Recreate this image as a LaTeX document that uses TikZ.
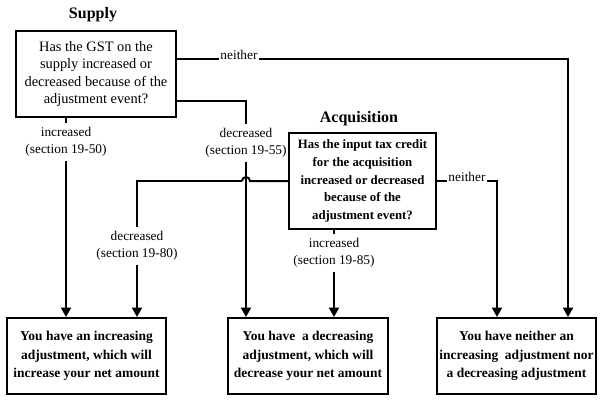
\documentclass[tikz,border=0pt]{standalone}
\usepackage{fontspec}
\setmainfont{Liberation Serif}
\usetikzlibrary{arrows.meta}
\tikzset{
  box/.style={draw, line width=1.5pt, inner sep=0pt, align=center},
  qreg/.style={box, font=\fontsize{10.8}{13}\selectfont},
  qbold/.style={box, font=\bfseries\fontsize{9.6}{13.2}\selectfont},
  rbox/.style={box, minimum width=159\pxu, minimum height=76\pxu, font=\bfseries\fontsize{10.1}{13.8}\selectfont},
  conn/.style={line width=1.5pt, -{Triangle[width=7.5pt,length=7pt]}},
  plain/.style={line width=1.5pt},
  lab/.style={fill=white, inner xsep=1pt, inner ysep=3.5pt, align=center, font=\fontsize{10}{12.7}\selectfont},
  nlab/.style={fill=white, inner sep=1.2pt, font=\fontsize{10}{12}\selectfont, anchor=base},
  ttl/.style={font=\bfseries\fontsize{12}{14}\selectfont}
}
\newlength{\pxu}
\setlength{\pxu}{0.75pt}
\begin{document}
\begin{tikzpicture}[x=0.75pt,y=-0.75pt]
\useasboundingbox (0,0) rectangle (600,400);
% titles
\node[ttl] (tsup) at (93,15) {Supply};
\node[ttl] (tacq) at (359,119) {Acquisition};
% question boxes
\node[qreg, minimum width=160\pxu, minimum height=86\pxu] (supply) at (96,74)
  {Has the GST on the\\supply increased or\\decreased because of the\\adjustment event?};
\node[qbold, minimum width=147\pxu, minimum height=96\pxu] (acq) at (362.5,181)
  {Has the input tax credit\\for the acquisition\\increased or decreased\\because of the\\adjustment event?};
% result boxes
\node[rbox] (box1) at (86.5,356) {You have an increasing\\adjustment, which will\\increase your net amount};
\node[rbox, minimum width=160\pxu] (box2) at (308,356) {You have~ a decreasing\\adjustment, which will\\decrease your net amount};
\node[rbox] (box3) at (516.5,356) {You have neither an\\increasing~ adjustment nor\\a decreasing adjustment};
% corner coordinates
\coordinate (n1) at (568,59);
\coordinate (d1) at (246,101);
\coordinate (i1) at (66,117);
\coordinate (d2) at (137,181);
\coordinate (j1) at (250,181);
\coordinate (j2) at (242,181);
\coordinate (i2) at (334,229);
\coordinate (n2) at (497,181);
% connectors from supply
\draw[conn] (supply.east |- n1) -- (n1) -- (box3.north -| n1);
\draw[conn] (supply.east |- d1) -- (d1) -- (box2.north -| d1);
\draw[conn] (supply.south -| i1) -- (box1.north -| i1);
% connectors from acquisition
\draw[plain] (acq.west |- j1) -- (j1) arc[start angle=0, end angle=180, radius=3pt];
\draw[conn] (j2) -- (d2) -- (box1.north -| d2);
\draw[conn] (acq.south -| i2) -- (box2.north -| i2);
\draw[conn] (acq.east |- n2) -- (n2) -- (box3.north -| n2);
% labels
\node[nlab] (ln1) at (239,59) {neither};
\node[nlab] (ln2) at (467,181) {neither};
\node[lab] (li1) at (66,142) {increased\\(section 19-50)};
\node[lab] (ld1) at (246,143) {decreased\\(section 19-55)};
\node[lab] (ld2) at (137,246) {decreased\\(section 19-80)};
\node[lab] (li2) at (334,253) {increased\\(section 19-85)};
\end{tikzpicture}
\end{document}
